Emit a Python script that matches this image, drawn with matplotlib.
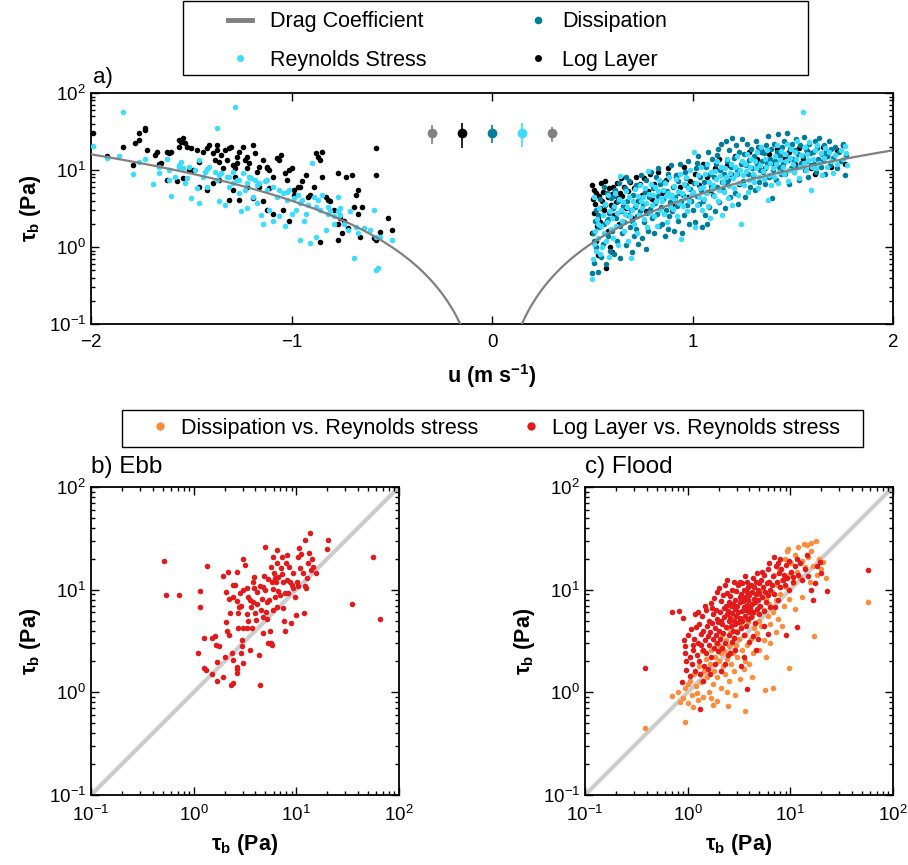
import matplotlib
matplotlib.use('Agg')
import matplotlib.pyplot as plt
from matplotlib.lines import Line2D
from matplotlib.patches import Rectangle
import numpy as np

plt.rcParams['font.family'] = ['Liberation Sans', 'DejaVu Sans']
plt.rcParams['mathtext.fontset'] = 'custom'
plt.rcParams['mathtext.rm'] = 'Liberation Sans'
plt.rcParams['mathtext.it'] = 'Liberation Sans:italic'
plt.rcParams['mathtext.bf'] = 'Liberation Sans:bold'
plt.rcParams['mathtext.default'] = 'regular'

# ---- data : panel a, ebb (u<0) ----
ebb_loglayer = [(-1.99,30),(-1.92,15.2),(-1.84,20),(-1.79,11.6),(-1.78,22.7),(-1.76,30),(-1.76,24.5),(-1.73,33),
	(-1.73,35),(-1.72,18.2),(-1.68,15.7),(-1.67,17.3),(-1.66,12.0),(-1.62,17.3),(-1.61,16.5),(-1.60,17.3),(-1.57,7.1),
	(-1.56,24.5),(-1.56,20),(-1.55,23.3),(-1.54,25.8),(-1.53,22.2),(-1.52,20),(-1.50,19.1),(-1.49,10),(-1.47,18.2),
	(-1.46,12.8),(-1.44,17.3),(-1.42,19.1),(-1.41,21.1),(-1.39,16.5),(-1.38,13.5),(-1.37,18.2),(-1.37,21.1),(-1.36,12.8),
	(-1.35,15.7),(-1.34,10.5),(-1.33,18.2),(-1.32,13.5),(-1.31,19.1),(-1.30,20),(-1.29,11.6),(-1.28,10.5),(-1.27,14.9),
	(-1.27,12.2),(-1.26,17.3),(-1.24,20),(-1.23,13.5),(-1.22,10.5),(-1.22,14.9),(-1.21,12.2),(-1.19,21.1),(-1.18,16.5),
	(-1.17,9.5),(-1.16,11),(-1.14,13.5),(-1.12,11),(-1.12,10.5),(-1.11,10),(-1.09,8.2),(-1.07,14.2),(-1.06,13.5),
	(-1.05,15.7),(-1.03,9.1),(-1.02,7.4),(-1.01,10),(-1.00,10.5),(-0.99,4.7),(-0.97,6.1),(-0.96,6.1),(-0.95,7.1),
	(-0.93,8.6),(-0.92,4.5),(-0.91,4.7),(-0.89,6.1),(-0.88,16.5),(-0.87,14.9),(-0.86,13.5),(-0.85,17.3),(-0.86,1.17),
	(-0.85,8.2),(-0.83,4.5),(-0.82,4.1),(-0.81,3.9),(-0.79,3.0),(-0.77,2.0),(-0.77,9.2),(-0.77,1.23),(-0.76,2.4),
	(-0.75,1.51),(-0.74,2.2),(-0.73,8.2),(-0.72,1.75),(-0.70,8.6),(-0.69,3.3),(-0.68,4.7),(-0.67,5.5),(-0.67,2.7),
	(-0.66,1.36),(-0.65,3.3),(-0.58,19.1),(-0.58,8.6),(-0.59,1.30),(-0.58,1.23),(-0.56,1.58),(-0.52,2.4),(-0.50,1.66),
	(-1.31,4.1),(-1.26,4.1),(-1.19,4.3),(-1.14,3.9),(-1.12,3.0),(-1.09,2.7),(-1.04,3.0),(-1.01,2.2),(-0.99,5.5),
	(-1.42,5.5),(-1.39,6.7),(-1.36,7.4),(-1.29,5.5),(-1.28,8.2),(-1.22,6.1),(-1.16,6.1),(-1.11,5.8),(-1.46,6.1),
	(-1.51,10),(-1.54,7.8),(-1.65,12.2),(-1.62,7.4)]

ebb_reynolds = [(-1.99,20.6),(-1.92,14.5),(-1.86,15.2),(-1.84,56),(-1.79,8.9),(-1.76,12.8),(-1.73,13.7),(-1.69,6.6),
	(-1.66,9.1),(-1.66,10.8),(-1.62,13.7),(-1.61,10),(-1.61,7.4),(-1.60,4.6),(-1.58,8.2),(-1.56,10.8),(-1.56,11.6),
	(-1.55,12.8),(-1.54,10.5),(-1.53,6.7),(-1.52,7.8),(-1.51,10.8),(-1.50,4.3),(-1.48,10),(-1.47,5.8),(-1.46,13.5),
	(-1.46,3.7),(-1.44,8.2),(-1.43,9.5),(-1.42,6.1),(-1.41,10.8),(-1.38,9.5),(-1.37,35),(-1.37,7.4),(-1.36,4.0),
	(-1.35,9.1),(-1.33,3.5),(-1.32,8.2),(-1.31,6.1),(-1.29,6.7),(-1.28,65),(-1.27,7.4),(-1.26,5.0),(-1.25,2.9),
	(-1.23,5.5),(-1.22,6.7),(-1.22,3.2),(-1.20,7.8),(-1.19,4.5),(-1.17,6.4),(-1.17,3.7),(-1.15,2.6),(-1.14,2.0),
	(-1.13,7.1),(-1.12,5.5),(-1.11,3.0),(-1.09,2.2),(-1.07,4.5),(-1.06,2.5),(-1.04,5.0),(-1.03,1.9),(-1.02,4.1),
	(-1.01,5.5),(-1.00,2.7),(-0.98,3.0),(-0.97,4.7),(-0.96,1.23),(-0.95,4.1),(-0.94,2.2),(-0.93,2.7),(-0.91,1.12),
	(-0.90,12.2),(-0.89,4.5),(-0.88,1.36),(-0.87,4.1),(-0.85,4.7),(-0.83,1.66),(-0.82,3.3),(-0.81,2.9),(-0.79,2.0),
	(-0.77,4.5),(-0.77,2.9),(-0.76,2.6),(-0.74,2.0),(-0.72,1.66),(-0.71,2.9),(-0.69,0.71),(-0.68,1.84),(-0.67,1.51),
	(-0.64,1.75),(-0.61,1.66),(-0.59,3.0),(-0.58,1.36),(-0.58,0.51),(-0.57,0.54),(-0.56,1.36),(-0.50,1.23),
	(-1.42,10.2),(-1.36,8.6),(-1.31,8.0),(-1.29,9.5),(-1.26,7.4),(-1.24,9.1),(-1.21,8.2),(-1.18,7.4),(-1.16,6.7),
	(-1.12,7.4),(-1.09,6.1),(-1.06,5.5),(-1.02,5.2),(-0.99,4.3),(-0.96,3.7),(-0.92,3.5),(-0.88,3.3),(-0.86,3.0),
	(-0.82,2.7),(-0.79,2.5),(-0.76,3.2)]

# ---- data : panel a, flood (u>0) ----
flood_dissipation = [(0.50,0.46),(0.51,0.62),(0.52,1.0),(0.53,0.48),(0.505,1.5),(0.515,2.2),(0.52,3.0),(0.535,1.8),
	(0.54,4.2),(0.545,0.75),(0.51,1.2),(0.53,2.6),(0.555,1.1),(0.56,2.0),(0.565,3.5),(0.57,0.6),(0.575,5.0),(0.58,1.4),
	(0.585,2.8),(0.59,0.9),(0.595,4.3),(0.56,6.0),(0.58,2.3),(0.60,1.6),(0.605,3.2),(0.61,0.8),(0.615,5.5),(0.62,2.4),
	(0.625,1.2),(0.63,3.9),(0.635,6.8),(0.64,1.9),(0.645,2.9),(0.61,4.6),(0.64,0.72),(0.65,1.5),(0.655,3.4),(0.66,2.1),
	(0.665,5.8),(0.67,1.05),(0.675,4.0),(0.68,2.6),(0.685,7.2),(0.69,1.8),(0.695,3.0),(0.67,8.0),(0.70,0.85),(0.70,2.2),
	(0.705,4.8),(0.71,1.4),(0.715,3.3),(0.72,6.3),(0.725,2.5),(0.73,1.1),(0.735,4.1),(0.74,2.9),(0.745,8.5),(0.72,1.7),
	(0.75,1.3),(0.755,3.6),(0.76,2.1),(0.765,5.2),(0.77,7.5),(0.775,2.8),(0.78,1.6),(0.785,4.4),(0.79,3.1),(0.795,9.5),
	(0.77,0.95),(0.80,2.4),(0.805,5.8),(0.81,1.5),(0.815,3.7),(0.82,8.0),(0.825,2.7),(0.83,4.6),(0.835,1.9),(0.84,6.5),
	(0.845,3.3),(0.83,10.5),(0.85,2.0),(0.855,4.2),(0.86,7.0),(0.865,1.4),(0.87,3.0),(0.875,5.4),(0.88,9.0),(0.885,2.5),
	(0.89,3.8),(0.895,11.5),(0.88,1.7),(0.90,2.9),(0.905,6.0),(0.91,1.6),(0.915,4.5),(0.92,8.5),(0.925,3.4),(0.93,2.2),
	(0.935,5.1),(0.94,12.0),(0.945,3.9),(0.93,7.2),(0.95,1.5),(0.955,4.8),(0.96,2.6),(0.965,9.5),(0.97,6.4),(0.975,3.5),
	(0.98,13.0),(0.985,2.0),(0.99,5.6),(0.995,4.0),(0.97,7.8),(1.00,3.0),(1.005,6.8),(1.01,2.1),(1.015,10.5),(1.02,4.6),
	(1.025,15.0),(1.03,3.6),(1.035,8.2),(1.04,5.5),(1.045,1.8),(1.02,12.5),(1.05,4.0),(1.055,7.0),(1.06,2.6),(1.065,11.0),
	(1.07,5.2),(1.075,17.0),(1.08,3.3),(1.085,9.0),(1.09,6.2),(1.095,14.0),(1.07,2.0),(1.10,4.8),(1.105,8.0),(1.11,2.9),
	(1.115,12.0),(1.12,6.0),(1.125,19.0),(1.13,3.8),(1.135,10.0),(1.14,22.0),(1.145,7.0),(1.12,15.5),(1.15,5.5),(1.155,9.0),
	(1.16,3.2),(1.165,24.0),(1.17,13.0),(1.175,7.5),(1.18,18.0),(1.185,4.4),(1.19,11.0),(1.195,26.0),(1.17,6.5),(1.20,8.0),
	(1.205,14.5),(1.21,5.0),(1.215,21.0),(1.22,10.0),(1.225,3.6),(1.23,17.0),(1.235,6.8),(1.24,12.0),(1.245,25.0),(1.22,9.0),
	(1.25,7.2),(1.255,16.0),(1.26,4.5),(1.265,11.5),(1.27,22.0),(1.275,9.0),(1.28,13.5),(1.285,6.0),(1.29,19.0),(1.295,10.5),
	(1.30,8.5),(1.305,15.0),(1.31,5.5),(1.315,24.0),(1.32,12.0),(1.325,20.0),(1.33,7.0),(1.335,10.0),(1.34,17.0),(1.345,13.0),
	(1.35,9.5),(1.355,16.5),(1.36,6.5),(1.365,21.0),(1.37,12.5),(1.375,28.0),(1.38,8.0),(1.385,14.0),(1.39,18.5),(1.395,4.3),
	(1.40,10.0),(1.405,22.0),(1.41,13.0),(1.415,7.5),(1.42,17.0),(1.425,29.0),(1.43,11.0),(1.435,15.0),(1.44,8.8),(1.445,20.0),
	(1.45,12.0),(1.455,24.0),(1.46,9.0),(1.465,16.0),(1.47,30.0),(1.475,13.5),(1.48,6.5),(1.485,19.0),(1.49,10.5),(1.495,22.0),
	(1.50,14.0),(1.505,9.5),(1.51,18.0),(1.515,25.0),(1.52,11.0),(1.525,16.0),(1.53,7.5),(1.535,21.0),(1.54,12.5),
	(1.55,15.0),(1.555,27.0),(1.56,10.0),(1.565,19.0),(1.57,13.0),(1.575,8.0),(1.58,22.0),(1.585,16.5),(1.59,11.5),
	(1.60,17.0),(1.605,12.0),(1.61,24.0),(1.615,9.5),(1.62,19.5),(1.625,14.0),(1.63,26.0),(1.64,11.0),(1.645,16.0),
	(1.65,13.0),(1.655,21.0),(1.66,9.0),(1.665,17.5),(1.67,15.0),(1.68,24.0),(1.685,11.5),(1.69,19.0),
	(1.70,14.5),(1.71,20.0),(1.72,10.5),(1.73,17.0),(1.74,13.0),(1.75,22.0),(1.76,8.5),(1.765,15.5)]

flood_reynolds = [(0.50,0.38),(0.505,0.7),(0.51,1.1),(0.515,1.6),(0.52,0.9),(0.525,2.3),(0.53,1.3),(0.535,3.2),(0.54,0.8),
	(0.545,1.9),(0.51,4.5),(0.53,2.0),(0.55,1.0),(0.555,2.6),(0.56,1.5),(0.565,3.6),(0.57,1.2),(0.575,2.1),(0.58,4.8),
	(0.585,0.75),(0.59,2.9),(0.595,1.7),(0.60,2.4),(0.605,1.3),(0.61,3.4),(0.615,5.0),(0.62,1.9),(0.625,2.8),(0.63,1.05),
	(0.635,4.2),(0.64,8.3),(0.645,3.0),(0.65,2.2),(0.655,3.8),(0.66,1.6),(0.665,2.7),(0.67,5.3),(0.675,3.3),(0.68,1.2),
	(0.685,4.5),(0.69,2.5),(0.695,0.71),(0.70,3.0),(0.705,4.0),(0.71,2.0),(0.715,5.6),(0.72,3.5),(0.725,1.5),(0.73,4.6),
	(0.735,2.6),(0.74,6.4),(0.745,3.9),(0.75,3.2),(0.755,4.4),(0.76,2.3),(0.765,5.8),(0.77,3.7),(0.775,1.8),(0.78,9.8),
	(0.785,4.9),(0.79,2.8),(0.795,6.6),(0.80,3.5),(0.805,4.7),(0.81,2.5),(0.815,6.0),(0.82,3.9),(0.825,1.9),(0.83,5.3),
	(0.835,7.4),(0.84,3.0),(0.845,4.3),(0.85,4.0),(0.855,5.5),(0.86,2.7),(0.865,6.8),(0.87,4.6),(0.875,2.1),(0.88,5.1),
	(0.885,8.2),(0.89,3.4),(0.895,4.4),(0.90,4.8),(0.905,3.1),(0.91,6.2),(0.915,4.1),(0.92,7.6),(0.925,2.5),(0.93,5.4),
	(0.935,3.7),(0.94,9.0),(0.945,1.28),(0.95,5.0),(0.955,3.4),(0.96,6.5),(0.965,4.3),(0.97,8.0),(0.975,2.9),(0.98,5.8),
	(0.985,3.9),(0.99,10.0),(0.995,4.7),(1.00,5.2),(1.005,17.0),(1.01,1.8),(1.015,6.8),(1.02,3.5),(1.025,8.6),(1.03,4.4),
	(1.035,5.9),(1.04,11.0),(1.045,3.0),(1.05,6.0),(1.055,4.2),(1.06,8.8),(1.065,5.0),(1.07,12.0),(1.075,3.4),(1.08,7.0),
	(1.085,2.4),(1.09,9.5),(1.095,5.6),(1.10,6.4),(1.105,4.6),(1.11,9.8),(1.115,7.6),(1.12,13.0),(1.125,3.9),(1.13,5.5),
	(1.135,8.4),(1.14,11.0),(1.145,2.6),(1.15,7.0),(1.155,5.2),(1.16,10.5),(1.165,8.0),(1.17,14.0),(1.175,4.3),(1.18,6.2),
	(1.185,9.2),(1.19,12.0),(1.195,3.5),(1.20,7.8),(1.205,5.8),(1.21,11.0),(1.215,9.0),(1.22,15.0),(1.225,4.8),(1.23,6.8),
	(1.235,10.0),(1.24,2.0),(1.245,13.0),(1.25,8.5),(1.255,6.3),(1.26,12.0),(1.265,9.8),(1.27,16.0),(1.275,5.2),(1.28,7.4),
	(1.285,11.0),(1.29,14.0),(1.30,9.0),(1.305,7.0),(1.31,13.0),(1.315,10.5),(1.32,17.0),(1.325,5.8),(1.33,8.0),(1.335,11.5),
	(1.34,20.0),(1.35,9.8),(1.355,7.6),(1.36,14.0),(1.365,11.0),(1.37,18.0),(1.375,4.1),(1.38,8.6),(1.385,12.5),(1.39,6.4),
	(1.40,10.5),(1.405,8.2),(1.41,15.0),(1.415,12.0),(1.42,21.0),(1.425,6.8),(1.43,9.3),(1.435,13.5),(1.44,17.5),
	(1.45,11.0),(1.455,8.8),(1.46,16.0),(1.465,13.0),(1.47,22.0),(1.475,7.2),(1.48,10.0),(1.485,14.5),(1.49,18.5),
	(1.50,12.0),(1.505,9.5),(1.51,17.0),(1.515,14.0),(1.52,24.0),(1.53,7.8),(1.535,10.8),(1.54,15.5),(1.55,57.0),
	(1.555,12.5),(1.56,20.0),(1.565,10.0),(1.57,16.0),(1.575,13.5),(1.58,23.0),(1.59,5.5),(1.595,11.0),
	(1.60,14.0),(1.61,18.0),(1.615,10.5),(1.62,21.0),(1.63,12.5),(1.64,16.5),(1.645,8.5),
	(1.655,14.5),(1.66,19.5),(1.67,11.0),(1.68,17.0),(1.69,13.0),(1.70,9.1),(1.71,15.5),(1.72,12.0),(1.74,18.0),
	(1.75,14.0),(1.76,20.5),(1.77,11.5),(1.765,16.5)]

flood_loglayer = [(0.50,6.3),(0.505,4.2),(0.51,2.8),(0.515,3.6),(0.52,5.0),(0.525,1.9),(0.53,2.4),(0.535,4.6),(0.54,3.2),
	(0.545,6.8),(0.50,1.5),(0.52,1.2),(0.53,0.79),(0.51,5.5),(0.54,2.1),(0.55,4.0),(0.555,5.2),(0.56,3.0),(0.565,7.3),
	(0.57,0.54),(0.575,2.2),(0.58,4.4),(0.585,5.8),(0.59,1.0),(0.595,3.5),(0.60,4.9),(0.605,6.1),(0.61,2.6),(0.615,5.4),
	(0.62,3.8),(0.625,6.8),(0.63,4.3),(0.635,2.0),(0.64,5.0),(0.645,7.8),(0.58,1.6),(0.60,0.85),(0.65,4.6),(0.66,6.0),
	(0.67,3.2),(0.68,5.4),(0.69,7.0),(0.70,2.4),(0.71,5.8),(0.72,8.2),(0.73,3.9),(0.74,6.6),(0.75,4.8),(0.76,7.8),
	(0.77,2.9),(0.78,5.3),(0.79,8.8),(0.80,4.2),(0.81,6.5),(0.83,9.4),(0.85,5.0),(0.87,7.4),(0.88,10.5),(0.90,3.6),
	(0.92,8.0),(0.94,6.0),(0.96,11.0),(0.98,4.5),(0.99,7.2),(1.01,9.0),(1.03,6.3),(1.05,12.0),(1.07,8.0),(1.09,5.5),
	(1.11,10.5),(1.13,14.0),(1.15,7.0),(1.17,11.5),(1.19,9.0),(1.21,15.0),(1.23,6.6),(1.26,12.0),(1.28,17.0),(1.30,8.5),
	(1.32,14.0),(1.34,19.0),(1.36,10.5),(1.38,16.0),(1.40,12.5),(1.42,18.5),(1.44,9.5),(1.46,14.5),(1.48,17.0),
	(1.51,12.0),(1.53,19.5),(1.55,14.0),(1.57,17.5),(1.59,10.5),(1.61,9.0),(1.63,13.0),(1.65,20.0),(1.67,15.0),
	(1.69,11.0),(1.72,18.0),(1.75,21.0),(1.76,12.0)]

# uncertainty markers at top of panel a: u position, centre, lower, upper
err_u = [-0.30, -0.15, 0.0, 0.15, 0.30]
err_mid = [30, 30, 30, 30, 30]
err_lo = [21.6, 19.1, 22.4, 19.7, 23.3]
err_hi = [38.4, 41.0, 38.4, 40.4, 36.5]

# drag law tau = rho*Cd*u^2
rho = 1025.0
cd_ebb = 0.0039
cd_flood = 0.0044

# ---- data : panels b/c (x = Reynolds stress, y = other estimate) ----
ebb_log_vs_rs = [(0.51,19.1),(0.54,8.8),(0.72,8.8),(1.14,9.8),(1.15,6.8),(1.11,2.4),(1.26,3.4),(1.26,1.71),(1.32,1.65),
	(1.36,17),(1.51,3.4),(1.51,1.50),(1.61,3.5),(1.65,2.9),(1.67,1.99),(1.67,1.29),(1.77,2.8),(1.91,13.6),(1.91,1.40),
	(2.02,2.2),(2.06,4.8),(2.06,9.5),(2.09,4.0),(2.17,14.8),(2.22,3.6),(2.22,8.2),(2.26,5.9),(2.29,1.18),(2.40,1.22),
	(2.34,2.4),(2.40,8.5),(2.43,11.1),(2.43,2.06),(2.52,11.1),(2.62,1.67),(2.66,1.78),(2.66,7.8),(2.66,14.9),(2.66,1.53),
	(2.72,4.2),(2.72,5.9),(2.78,6.8),(2.82,9.2),(2.86,2.4),(2.93,2.8),(2.93,3.2),(3.0,20),(3.0,1.91),(3.04,4.2),(3.04,10),
	(3.16,17.4),(3.28,5.8),(3.28,10.3),(3.28,4.2),(3.36,5.0),(3.53,2.6),(3.53,7.9),(3.59,6.8),(3.67,4.2),(3.75,11.9),
	(3.81,7.6),(3.87,10.3),(3.95,5.9),(4.05,5.1),(4.10,7.3),(4.17,9.5),(4.36,2.3),(4.43,1.18),(4.49,6.3),(4.59,8.2),
	(4.70,10.5),(4.70,5.4),(4.77,3.75),(4.94,25.8),(4.94,9.9),(5.06,6.0),(5.14,7.6),(5.21,5.2),(5.33,3.0),(5.45,8.0),
	(5.53,4.0),(5.62,16.7),(5.62,3.0),(5.74,2.9),(5.74,11.9),(5.87,20.9),(5.96,6.3),(6.05,14.4),(6.19,8.5),(6.33,11.9),
	(6.42,24.3),(6.42,18.3),(6.52,6.8),(6.67,13.4),(6.92,8.9),(7.03,16.1),(7.19,20.9),(7.35,11.9),(7.46,6.6),(7.57,4.9),
	(7.74,4.0),(7.74,9.3),(7.91,18.0),(8.03,12.4),(8.16,21.7),(8.35,9.3),(8.54,16.7),(8.67,11.9),(8.79,4.7),(9.0,11.1),
	(9.2,14.4),(9.3,10.3),(9.7,8.5),(9.9,5.7),(10.1,11.9),(10.3,10.9),(10.4,20.6),(10.7,25.2),(10.8,16.1),(11.2,22.2),
	(11.5,14.4),(11.9,5.9),(12.1,10.9),(12.1,30.4),(12.4,10.3),(12.6,12.9),(13.1,18.3),(13.4,22.9),(13.6,35.3),
	(13.8,15.5),(14.1,20.1),(14.6,16.7),(15.5,14.4),(19.7,24.7),(20.5,30.4),(34.5,7.2),(56,20.6),(65,5.2),
	(5.3,12.8),(5.9,10.2),(6.2,13.0),(6.6,9.6),(7.2,14.2),(4.4,10.8),(4.8,13.5),(3.4,8.4),(3.9,13.2),(2.9,7.0)]

flood_log_vs_rs = [(0.71,6.0),(0.82,6.2),(0.91,5.3),(0.93,3.2),(0.94,2.8),(0.94,2.4),(0.96,1.65),(0.89,1.25),(1.32,0.69),
	(0.38,1.74),(0.97,2.0),(1.0,3.6),(1.05,2.2),(1.08,4.1),(1.1,1.9),(1.12,2.6),(1.15,3.3),(1.18,1.6),(1.2,4.3),(1.05,1.45),
	(1.13,2.9),(1.17,5.8),(1.22,2.3),(1.25,3.0),(1.28,4.6),(1.3,2.0),(1.32,1.5),(1.35,3.7),(1.38,5.6),(1.4,2.6),(1.42,4.0),
	(1.45,1.8),(1.48,3.2),(1.5,6.3),(1.52,2.4),(1.55,4.4),(1.58,3.5),(1.27,6.1),(1.4,1.3),(1.46,7.0),(1.57,1.7),(1.36,2.9),
	(1.6,5.0),(1.62,2.9),(1.65,3.9),(1.68,7.4),(1.7,2.2),(1.72,4.7),(1.75,3.3),(1.78,5.8),(1.8,8.3),(1.82,2.7),(1.85,4.2),
	(1.88,6.4),(1.9,3.6),(1.92,5.2),(1.95,9.5),(1.97,2.5),(1.98,4.8),(1.66,1.5),(1.74,6.6),(1.86,1.9),(2.0,10.3),(1.93,3.0),
	(2.02,4.0),(2.05,6.0),(2.08,3.3),(2.1,7.8),(2.12,5.0),(2.15,2.7),(2.18,4.6),(2.2,8.8),(2.22,3.8),(2.25,6.6),(2.28,5.4),
	(2.3,11.0),(2.32,3.0),(2.35,7.0),(2.38,4.3),(2.4,9.2),(2.42,5.8),(2.45,2.3),(2.48,6.2),(2.5,4.9),(2.1,1.6),(2.3,1.9),
	(2.44,12.5),(2.52,7.5),(2.55,3.6),(2.58,5.3),(2.6,8.6),(2.62,4.4),(2.65,6.9),(2.68,3.1),(2.7,10.0),(2.72,5.9),(2.75,4.0),
	(2.78,7.2),(2.8,12.0),(2.82,5.0),(2.85,3.4),(2.88,6.5),(2.9,8.0),(2.92,4.6),(2.95,9.8),(2.98,5.6),(3.0,7.0),(3.05,3.9),
	(3.08,11.0),(3.1,6.0),(3.15,4.8),(3.2,8.4),(2.6,2.4),(2.9,2.6),(3.2,12.0),(3.22,5.3),(3.25,7.6),(3.3,4.2),(3.32,9.0),
	(3.35,6.2),(3.4,11.5),(3.42,5.0),(3.45,7.8),(3.5,3.6),(3.52,6.8),(3.55,10.0),(3.6,5.6),(3.62,8.5),(3.65,13.5),(3.7,6.4),
	(3.72,4.4),(3.75,9.4),(3.8,7.1),(3.82,12.0),(3.85,5.2),(3.88,8.0),(3.9,10.5),(3.95,6.0),(3.98,3.1),(3.8,1.08),(3.5,2.2),
	(3.3,1.8),(4.0,8.8),(4.05,6.7),(4.1,11.0),(4.15,5.4),(4.2,9.5),(4.25,7.3),(4.3,13.0),(4.35,6.0),(4.4,8.2),(4.45,10.5),
	(4.5,4.7),(4.55,7.6),(4.6,12.0),(4.65,9.0),(4.7,6.5),(4.75,14.5),(4.8,8.0),(4.85,10.0),(4.9,5.8),(4.95,11.5),(4.3,3.5),
	(4.6,2.6),(4.8,3.3),(5.0,9.2),(5.1,7.0),(5.2,12.5),(5.3,8.4),(5.4,10.5),(5.5,6.2),(5.6,14.0),(5.7,9.5),(5.8,7.6),
	(5.9,11.5),(6.0,16.0),(6.1,8.8),(6.2,12.0),(6.3,10.0),(6.4,6.8),(5.5,4.4),(6.0,3.7),(6.2,18.0),(5.3,15.0),(6.6,11.0),
	(6.8,13.5),(7.0,9.0),(7.2,17.0),(7.4,12.0),(7.5,18.0),(7.6,8.0),(7.8,14.5),(8.0,10.5),(8.2,16.0),(8.4,12.5),(7.1,6.8),
	(8.0,20.0),(6.9,21.0),(8.6,14.0),(8.8,11.0),(9.0,17.5),(9.1,3.6),(9.3,13.0),(9.6,19.0),(9.8,10.0),(10.2,15.0),
	(10.5,12.0),(10.7,13.4),(11.0,17.0),(11.5,20.0),(11.7,4.3),(12.0,14.0),(12.5,18.0),(13.0,12.5),(14.0,16.0),
	(14.4,22.0),(15.0,13.5),(16.0,10.0),(16.7,7.9),(17.4,11.5),(18.0,17.0),(19.4,18.7),(20.0,14.5),(23.0,9.8),(57.0,15.5)]

flood_diss_vs_rs = [(0.38,0.45),(0.71,0.92),(0.94,0.51),(0.85,0.81),(1.22,0.98),(1.78,0.75),(2.49,0.74),(3.6,0.66),
	(5.7,1.05),(6.8,1.10),(9.6,1.74),(17.0,3.5),(57.0,7.6),(0.8,1.0),(0.9,0.88),(0.95,1.1),(1.0,0.78),(1.05,1.3),
	(1.1,0.95),(1.15,1.5),(1.2,1.15),(1.25,0.85),(1.3,1.8),(1.35,1.25),(1.4,0.9),(1.45,1.6),(1.5,2.1),(1.12,0.72),
	(1.38,2.5),(1.0,1.2),(1.55,1.4),(1.6,1.0),(1.65,1.9),(1.7,2.6),(1.75,1.2),(1.8,1.6),(1.85,2.2),(1.9,3.0),(1.95,1.4),
	(2.0,2.0),(2.05,2.8),(2.1,1.1),(2.15,3.6),(2.2,1.8),(1.68,0.88),(1.92,0.82),(2.1,2.4),(2.25,2.5),(2.3,1.5),(2.35,3.2),
	(2.4,2.1),(2.45,4.2),(2.5,1.3),(2.55,2.8),(2.6,3.8),(2.65,1.9),(2.7,4.6),(2.75,2.4),(2.8,3.4),(2.85,1.6),(2.9,5.4),
	(2.95,2.9),(3.0,4.0),(3.05,2.2),(3.1,6.0),(3.15,3.3),(3.2,1.35),(2.4,1.0),(2.9,0.95),(3.0,11.5),(3.3,4.4),(3.4,2.6),
	(3.5,5.2),(3.6,3.6),(3.7,6.6),(3.8,2.9),(3.9,4.8),(4.0,7.4),(4.1,3.3),(4.2,5.6),(4.3,2.4),(4.4,8.2),(4.45,4.2),
	(3.5,1.7),(4.0,1.9),(4.2,1.4),(3.6,2.0),(4.6,6.0),(4.7,3.8),(4.8,9.0),(4.9,5.0),(5.0,7.0),(5.2,4.4),(5.4,10.0),
	(5.5,6.4),(5.6,3.2),(5.8,8.2),(6.0,5.6),(6.1,12.0),(6.2,7.2),(6.4,4.6),(5.0,2.6),(5.8,2.2),(6.3,3.0),(6.6,9.5),
	(6.8,6.0),(7.0,14.0),(7.2,8.0),(7.4,11.0),(7.6,5.2),(7.8,16.0),(8.0,9.0),(8.3,12.5),(8.6,7.0),(8.8,20.0),(9.0,10.5),
	(9.3,24.0),(9.6,14.0),(9.8,8.2),(7.2,3.9),(8.3,4.4),(9.5,25.0),(10.2,18.0),(10.5,11.5),(11.0,22.0),(11.5,15.0),
	(12.0,26.0),(12.5,13.0),(13.0,19.0),(13.5,28.0),(14.0,16.5),(14.4,27.0),(15.0,21.0),(15.5,12.0),(16.0,24.0),
	(16.5,17.0),(17.7,30.0),(18.0,14.0),(19.0,20.0),(20.0,16.0),(21.0,18.5),(22.5,13.0),(11.0,6.5),(13.0,8.5),(16.0,28.5)]

# colours
c_rs = '#3cdcff'
c_diss = '#007d9a'
c_log = 'black'
c_drag = '#808080'
c_orange = '#fd8d3c'
c_red = '#e31a1c'

W, H = 908, 865
ms = 4.0
fs_tick = 13.5
fs_lab = 15.5
fs_leg = 15.5

def fx(px):
	return px / W

def fy(py):
	return 1 - py / H

def style_log_axis(ax, xlog):
	ax.set_yscale('log')
	if xlog:
		ax.set_xscale('log')
	ax.tick_params(which='both', direction='in', top=True, right=True, labelsize=fs_tick, width=1.0)
	ax.tick_params(which='major', length=6)
	ax.tick_params(which='minor', length=3)
	ax.tick_params(axis='x', pad=7)
	for s in ax.spines.values():
		s.set_linewidth(1.3)

fig = plt.figure(figsize=(W/100, H/100), dpi=100)

# ---------- panel a ----------
ax = fig.add_axes([fx(91), fy(324), fx(893)-fx(91), fy(93)-fy(324)])
style_log_axis(ax, False)
ax.set_xlim(-2, 2)
ax.set_ylim(0.1, 100)
ax.set_xticks([-2, -1, 0, 1, 2])
ax.tick_params(axis='x', which='minor', top=False, bottom=False)

u_e = np.linspace(-2, -0.01, 400)
u_f = np.linspace(0.01, 2, 400)
ax.plot(u_e, rho*cd_ebb*u_e**2, color=c_drag, lw=1.6, zorder=5)
ax.plot(u_f, rho*cd_flood*u_f**2, color=c_drag, lw=1.6, zorder=5)

for d, c in [(ebb_loglayer, c_log), (ebb_reynolds, c_rs)]:
	a = np.array(d).T
	ax.plot(a[0], a[1], 'o', color=c, ms=ms, mec='none', zorder=3)
for d, c in [(flood_loglayer, c_log), (flood_dissipation, c_diss), (flood_reynolds, c_rs)]:
	a = np.array(d).T
	ax.plot(a[0], a[1], 'o', color=c, ms=ms, mec='none', zorder=3)

err_cols = [c_drag, c_log, c_diss, c_rs, c_drag]
for i in range(len(err_u)):
	ax.errorbar(err_u[i], err_mid[i], yerr=[[err_mid[i]-err_lo[i]], [err_hi[i]-err_mid[i]]],
		fmt='o', color=err_cols[i], ms=7, mec='none', elinewidth=1.2, capsize=0)

ax.set_xlabel(r'u (m s$^{\mathbf{-1}}$)', fontsize=fs_lab, fontweight='bold', labelpad=8)
ax.set_ylabel(r'$\tau_{\mathbf{b}}$ (Pa)', fontsize=fs_lab, fontweight='bold', labelpad=4)
fig.text(fx(93), fy(83), 'a)', fontsize=16)

# top legend: frame drawn as a box, two columns placed inside it
fig.patches.append(Rectangle((fx(183), fy(75)), fx(808)-fx(183), fy(1)-fy(75), transform=fig.transFigure,
	fill=False, edgecolor='black', lw=1.0))
col1 = [Line2D([], [], color=c_drag, lw=3.5),
	Line2D([], [], ls='none', marker='o', color=c_rs, ms=5, mec='none')]
col2 = [Line2D([], [], ls='none', marker='o', color=c_diss, ms=5.5, mec='none'),
	Line2D([], [], ls='none', marker='o', color=c_log, ms=5, mec='none')]
for hs, lb, x0, hl, tp in [(col1, ['Drag Coefficient', 'Reynolds Stress'], 228, 1.1, 0.86),
		(col2, ['Dissipation', 'Log Layer'], 527, 1.0, 0.63)]:
	fig.legend(hs, lb, loc='center left', bbox_to_anchor=(fx(x0), fy(41)), frameon=False,
		fontsize=fs_leg, handlelength=hl, handletextpad=tp, labelspacing=0.8, borderpad=0, borderaxespad=0)

# ---------- panels b, c ----------
axb = fig.add_axes([fx(91), fy(795), fx(399)-fx(91), fy(487)-fy(795)])
axc = fig.add_axes([fx(585), fy(795), fx(893)-fx(585), fy(487)-fy(795)])
panels = [(axb, 'b) Ebb', [(ebb_log_vs_rs, c_red)]),
	(axc, 'c) Flood', [(flood_diss_vs_rs, c_orange), (flood_log_vs_rs, c_red)])]
for a_, title, sets in panels:
	style_log_axis(a_, True)
	a_.set_xlim(0.1, 100)
	a_.set_ylim(0.1, 100)
	a_.plot([0.1, 100], [0.1, 100], color='#cccccc', lw=3, zorder=1)
	for d, c in sets:
		a = np.array(d).T
		a_.plot(a[0], a[1], 'o', color=c, ms=ms, mec='none', zorder=3)
	a_.set_xlabel(r'$\tau_{\mathbf{b}}$ (Pa)', fontsize=fs_lab, fontweight='bold', labelpad=5)
	a_.set_ylabel(r'$\tau_{\mathbf{b}}$ (Pa)', fontsize=fs_lab, fontweight='bold', labelpad=4)
	a_.text(0.0, 1.028, title, transform=a_.transAxes, fontsize=17.5, ha='left', va='bottom')

# bottom legend
fig.patches.append(Rectangle((fx(122), fy(447)), fx(863)-fx(122), fy(410)-fy(447), transform=fig.transFigure,
	fill=False, edgecolor='black', lw=1.0))
handles2 = [Line2D([], [], ls='none', marker='o', color=c_orange, ms=6, mec='none'),
	Line2D([], [], ls='none', marker='o', color=c_red, ms=6, mec='none')]
fig.legend(handles2, ['Dissipation vs. Reynolds stress', 'Log Layer vs. Reynolds stress'], ncol=2,
	loc='center left', bbox_to_anchor=(fx(149), fy(428.5)), frameon=False, fontsize=fs_leg,
	handlelength=1.0, handletextpad=0.47, columnspacing=1.95, borderpad=0, borderaxespad=0)

fig.savefig('out.png', dpi=100)
